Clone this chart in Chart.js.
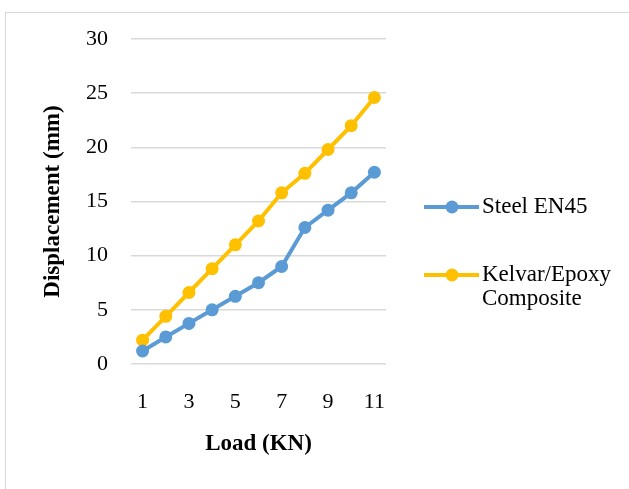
<!DOCTYPE html>
<html lang="en">
<head>
  <meta charset="UTF-8" />
  <title>Load vs Displacement</title>
  <style>
    html, body {
      margin: 0;
      padding: 0;
      background: #ffffff;
    }
    #wrap {
      position: relative;
      width: 629px;
      height: 489px;
    }
    #frame {
      position: absolute;
      left: 5px;
      top: 12px;
      right: 0;
      bottom: 0;
      border-top: 1.5px solid #d9d9d9;
      border-left: 1.5px solid #d9d9d9;
    }
    canvas {
      position: absolute;
      left: 0;
      top: 0;
    }
  </style>
</head>
<body>
  <div id="wrap">
    <div id="frame"></div>
    <canvas id="chart" width="629" height="489"></canvas>
  </div>

  <script src="https://cdn.jsdelivr.net/npm/chart.js"></script>
  <script>
    const loads = ["1", "2", "3", "4", "5", "6", "7", "8", "9", "10", "11"];
    const steel = [1.2, 2.5, 3.75, 5.0, 6.25, 7.5, 9.0, 12.6, 14.2, 15.8, 17.7];
    const kevlar = [2.2, 4.4, 6.6, 8.8, 11.0, 13.2, 15.8, 17.6, 19.8, 22.0, 24.6];
    const seriesNames = ["Steel EN45", ["Kelvar/Epoxy", "Composite"]];

    const blue = "#5b9bd5";
    const gold = "#ffc000";
    const serif = "'Liberation Serif', 'Times New Roman', serif";

    // legend drawn by hand so the second entry can wrap on two lines
    const sideLegend = {
      id: "sideLegend",
      afterDraw(chart) {
        const ctx = chart.ctx;
        const rows = [207, 275];
        ctx.save();
        chart.data.datasets.forEach((ds, i) => {
          const y = rows[i];
          ctx.strokeStyle = ds.borderColor;
          ctx.lineWidth = 4;
          ctx.beginPath();
          ctx.moveTo(424, y);
          ctx.lineTo(479, y);
          ctx.stroke();
          ctx.fillStyle = ds.borderColor;
          ctx.beginPath();
          ctx.arc(452, y, 6.5, 0, Math.PI * 2);
          ctx.fill();
          ctx.fillStyle = "#000";
          ctx.font = "23px " + serif;
          ctx.textBaseline = "middle";
          ctx.textAlign = "left";
          const lines = [].concat(seriesNames[i]);
          lines.forEach((t, k) => ctx.fillText(t, 482, y + k * 24));
        });
        ctx.restore();
      }
    };

    new Chart(document.getElementById("chart"), {
      type: "line",
      data: {
        labels: loads,
        datasets: [
          {
            label: "Steel EN45",
            data: steel,
            borderColor: blue,
            backgroundColor: blue,
            pointBackgroundColor: blue,
            borderWidth: 4,
            pointRadius: 6.5,
            pointBorderWidth: 0,
            tension: 0
          },
          {
            label: "Kelvar/Epoxy Composite",
            data: kevlar,
            borderColor: gold,
            backgroundColor: gold,
            pointBackgroundColor: gold,
            borderWidth: 4,
            pointRadius: 6.5,
            pointBorderWidth: 0,
            tension: 0
          }
        ]
      },
      options: {
        responsive: false,
        animation: false,
        layout: { padding: { top: 39, right: 243, bottom: 0, left: 0 } },
        plugins: {
          legend: { display: false },
          tooltip: { enabled: false }
        },
        scales: {
          x: {
            offset: true,
            grid: { display: false },
            border: { display: false },
            afterFit: (s) => { s.height = 125; },
            ticks: {
              autoSkip: false,
              maxRotation: 0,
              padding: 17,
              color: "#000",
              font: { family: serif, size: 22 },
              callback: function (v, i) { return i % 2 === 0 ? loads[i] : ""; }
            },
            title: {
              display: true,
              text: "Load (KN)",
              color: "#000",
              padding: 31,
              font: { family: serif, size: 23, weight: "bold" }
            }
          },
          y: {
            min: 0,
            max: 30,
            grid: { color: "#d9d9d9", lineWidth: 1.5, drawTicks: false },
            border: { display: false },
            afterFit: (s) => { s.width = 131; },
            ticks: {
              stepSize: 5,
              padding: 23,
              color: "#000",
              font: { family: serif, size: 22 }
            },
            title: {
              display: true,
              text: "Displacement (mm)",
              color: "#000",
              padding: 39,
              font: { family: serif, size: 23, weight: "bold" }
            }
          }
        }
      },
      plugins: [sideLegend]
    });
  </script>
</body>
</html>
